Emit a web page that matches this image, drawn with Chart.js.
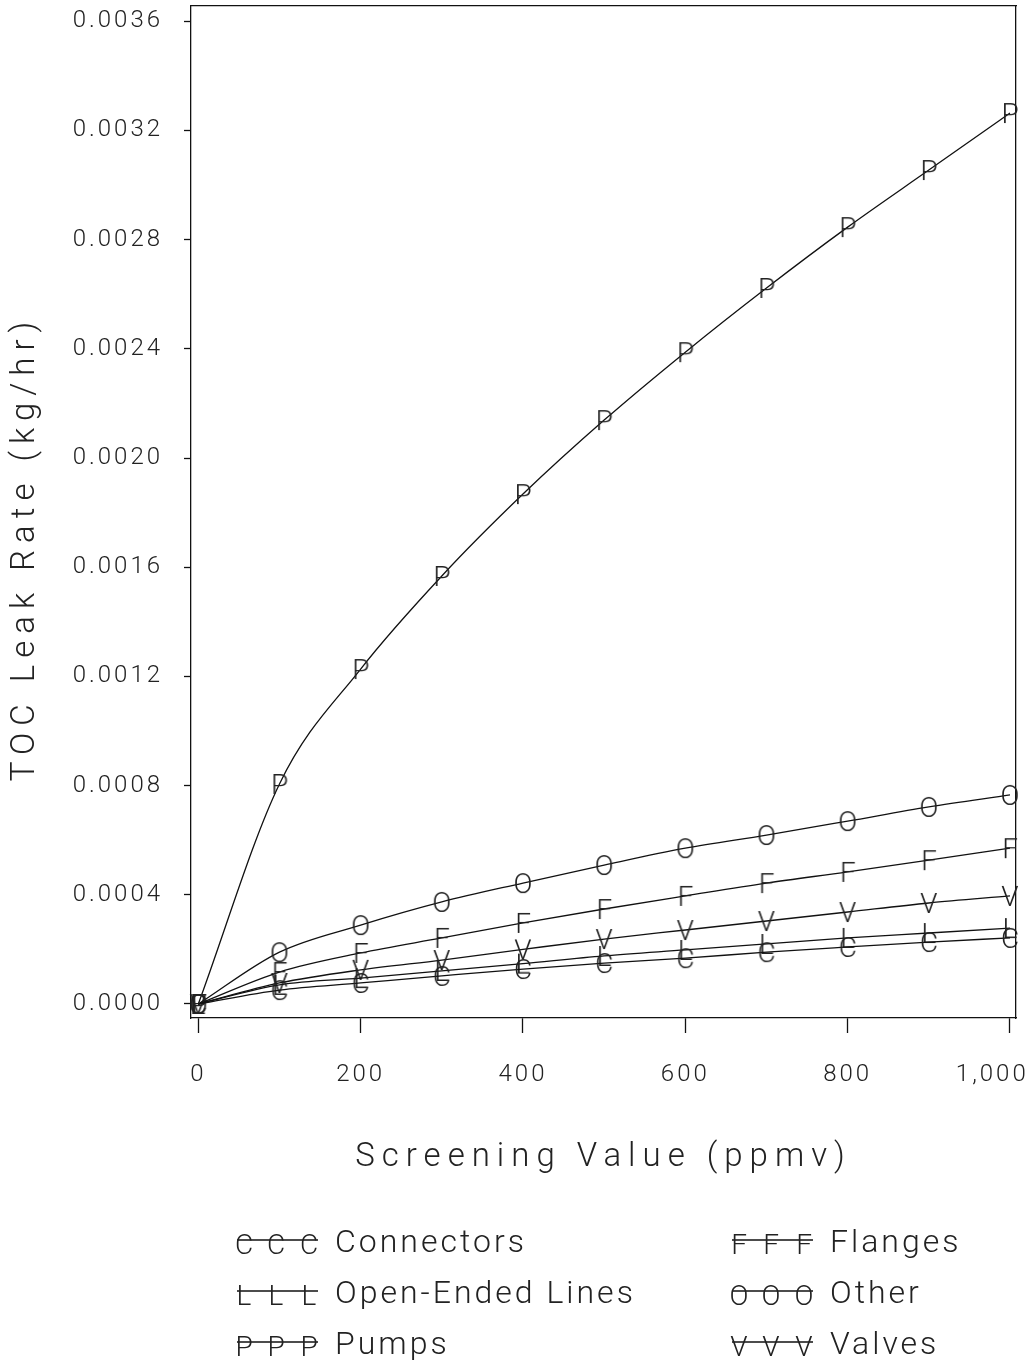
<!DOCTYPE html>
<html>
<head>
<meta charset="utf-8">
<script src="https://cdn.jsdelivr.net/npm/chart.js@4.4.1/dist/chart.umd.min.js"></script>
<style>
  html, body { margin: 0; padding: 0; background: #fff; }
  #wrap { width: 1034px; height: 1362px; }
</style>
</head>
<body>
<div id="wrap"><canvas id="chart"></canvas></div>
<script>
// screening values (ppmv) where the curves were evaluated
const screening = [0, 100, 200, 300, 400, 500, 600, 700, 800, 900, 1000];

// TOC leak rate (kg/hr)
const connectors = [0, 0.000051, 0.000077, 0.000103, 0.000128, 0.000150, 0.000168, 0.000190, 0.000209, 0.000227, 0.000242];
const flanges    = [0, 0.000117, 0.000187, 0.000242, 0.000297, 0.000348, 0.000396, 0.000443, 0.000484, 0.000527, 0.000571];
const openEnded  = [0, 0.000070, 0.000095, 0.000121, 0.000148, 0.000176, 0.000198, 0.000220, 0.000242, 0.000260, 0.000278];
const other      = [0, 0.000190, 0.000289, 0.000374, 0.000443, 0.000509, 0.000571, 0.000619, 0.000670, 0.000722, 0.000766];
const pumps      = [0, 0.000806, 0.001227, 0.001568, 0.001868, 0.002139, 0.002388, 0.002623, 0.002846, 0.003055, 0.003264];
const valves     = [0, 0.000077, 0.000125, 0.000161, 0.000200, 0.000238, 0.000271, 0.000304, 0.000337, 0.000370, 0.000396];

const seriesNames = ["Connectors", "Flanges", "Open-Ended Lines", "Other", "Pumps", "Valves"];
const seriesLetters = ["C", "F", "L", "O", "P", "V"];
const seriesValues = [connectors, flanges, openEnded, other, pumps, valves];

const xTicks = [0, 200, 400, 600, 800, 1000];
const xTickLabels = ["0", "200", "400", "600", "800", "1,000"];
const yTicks = [0, 0.0004, 0.0008, 0.0012, 0.0016, 0.0020, 0.0024, 0.0028, 0.0032, 0.0036];
const yTickLabels = ["0.0000", "0.0004", "0.0008", "0.0012", "0.0016", "0.0020", "0.0024", "0.0028", "0.0032", "0.0036"];

const INK = "#222";
const LINE = "#111";
const FAMILY = "Roboto, 'DejaVu Sans', sans-serif";

// letter used as the plotting symbol
function letterMarker(ch) {
  const c = document.createElement("canvas");
  c.width = 32;
  c.height = 32;
  const g = c.getContext("2d");
  g.font = "300 28px " + FAMILY;
  g.fillStyle = INK;
  g.textAlign = "center";
  g.textBaseline = "alphabetic";
  g.fillText(ch, 16, 26);
  return c;
}

// no room is kept for the edge tick labels, the frame sits where the original has it
function noEdgePadding(s) {
  s.paddingLeft = 0;
  s.paddingRight = 0;
  s.paddingTop = 0;
  s.paddingBottom = 0;
}

const spacing = {
  id: "spacing",
  beforeDraw(chart) {
    chart.ctx.letterSpacing = "3px";
  },
  afterLayout(chart) {
    Object.values(chart.scales).forEach(s => {
      if (s._patched) return;
      const orig = s.drawTitle;
      s.drawTitle = function () {
        const ctx = this.ctx;
        ctx.save();
        ctx.letterSpacing = "7px";
        if (this.axis === "y") ctx.translate(0, 36);
        orig.call(this);
        ctx.restore();
      };
      s._patched = true;
    });
  }
};

// legend: three letters struck through by the line, then the name
const letterLegend = {
  id: "letterLegend",
  afterDraw(chart) {
    const ctx = chart.ctx;
    ctx.save();
    chart.data.datasets.forEach((ds, i) => {
      const x0 = i % 2 ? 732 : 237;
      const y = 1244 + Math.floor(i / 2) * 51;
      ctx.strokeStyle = LINE;
      ctx.lineWidth = 1.3;
      ctx.beginPath();
      ctx.moveTo(x0, y - 4);
      ctx.lineTo(x0 + 81, y - 4);
      ctx.stroke();
      [7, 39, 72].forEach(dx => ctx.drawImage(ds.pointStyle, x0 + dx - 16, y - 16));
      ctx.font = "300 32px " + FAMILY;
      ctx.fillStyle = INK;
      ctx.letterSpacing = "3px";
      ctx.textBaseline = "middle";
      ctx.textAlign = "left";
      ctx.fillText(ds.label, x0 + 98, y);
    });
    ctx.restore();
  }
};

const tickFont = { family: FAMILY, size: 24, weight: 300 };
const titleFont = { family: FAMILY, size: 33, weight: 300 };

new Chart(document.getElementById("chart"), {
  type: "line",
  data: {
    datasets: seriesNames.map((name, i) => ({
      label: name,
      data: screening.map((x, j) => ({ x: x, y: seriesValues[i][j] })),
      borderColor: LINE,
      borderWidth: 1.3,
      backgroundColor: LINE,
      pointStyle: letterMarker(seriesLetters[i]),
      cubicInterpolationMode: "monotone",
      fill: false,
      clip: false
    }))
  },
  options: {
    responsive: true,
    maintainAspectRatio: false,
    animation: false,
    layout: { padding: { top: 6, right: 18, left: 0, bottom: 0 } },
    plugins: { legend: { display: false }, tooltip: { enabled: false } },
    scales: {
      x: {
        type: "linear",
        position: "bottom",
        min: -9,
        max: 1007.4,
        afterBuildTicks: s => { s.ticks = xTicks.map(v => ({ value: v })); },
        afterFit: s => { s.height = 344; noEdgePadding(s); },
        ticks: {
          // the last label is pulled left so it stays inside the page
          callback: (v, i) => i === xTicks.length - 1 ? xTickLabels[i] + "\u00a0\u00a0\u00a0\u00a0" : xTickLabels[i],
          font: tickFont,
          color: INK,
          padding: 28,
          maxRotation: 0,
          autoSkip: false
        },
        grid: { drawOnChartArea: false, tickLength: 15, color: LINE, tickWidth: 1.3 },
        border: { color: LINE, width: 1.3 },
        title: {
          display: true,
          text: "Screening Value (ppmv)",
          font: titleFont,
          color: INK,
          padding: { top: 0, bottom: 184 }
        }
      },
      y: {
        type: "linear",
        position: "left",
        min: -0.0000513,
        max: 0.003656,
        afterBuildTicks: s => { s.ticks = yTicks.map(v => ({ value: v })); },
        afterFit: s => { s.width = 191; noEdgePadding(s); },
        ticks: {
          callback: (v, i) => yTickLabels[i],
          font: tickFont,
          color: INK,
          padding: 21,
          autoSkip: false
        },
        grid: { drawOnChartArea: false, tickLength: 7, color: LINE, tickWidth: 1.3 },
        border: { color: LINE, width: 1.3 },
        title: {
          display: true,
          text: "TOC Leak Rate (kg/hr)",
          font: titleFont,
          color: INK,
          padding: { top: 6, bottom: 0 }
        }
      },
      x2: {
        type: "linear",
        position: "top",
        min: -9,
        max: 1007.4,
        ticks: { display: false },
        grid: { display: false },
        border: { color: LINE, width: 1.3 },
        afterFit: s => { s.height = 0; noEdgePadding(s); }
      },
      y2: {
        type: "linear",
        position: "right",
        min: -0.0000513,
        max: 0.003656,
        ticks: { display: false },
        grid: { display: false },
        border: { color: LINE, width: 1.3 },
        afterFit: s => { s.width = 0; noEdgePadding(s); }
      }
    }
  },
  plugins: [spacing, letterLegend]
});
</script>
</body>
</html>
